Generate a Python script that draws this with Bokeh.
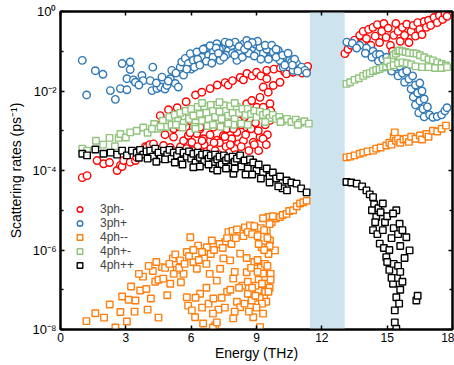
from bokeh.plotting import figure
from bokeh.models import (BoxAnnotation, FixedTicker, LinearAxis, LogAxis,
                          CustomJSTickFormatter, Legend, LegendItem)
from bokeh.embed import file_html
from bokeh.resources import INLINE

# ---------------- data (energy in THz, log10 of scattering rate in ps^-1) ----------------
e_3ph_minus = [1.0, 1.22, 1.68, 1.98, 2.25, 2.6, 2.75, 2.83, 2.9, 3.2, 3.44, 3.5, 3.66, 3.9, 3.97, 4.1, 4.27, 4.5,
               4.73, 5.04, 5.19, 5.5, 5.65, 5.87, 6.03, 6.26, 6.41, 6.56, 6.72, 6.87, 7.02, 7.18, 7.33, 7.48, 7.63,
               7.86, 7.94, 8.1, 8.17,
               4.58, 4.96, 5.36, 5.77, 5.2, 5.96, 6.2, 6.41, 6.49, 6.72, 6.87, 7.18, 7.2, 7.48, 7.56, 7.7, 7.9, 7.94,
               8.25, 8.25, 8.4, 8.55, 8.56, 8.78, 8.8, 9.01, 9.0, 9.16, 9.2, 9.31, 9.47, 9.47, 9.54, 9.62, 9.7, 9.77,
               9.8, 10.08, 10.1, 10.3, 10.38, 10.5, 10.68, 10.9, 11.0, 11.1, 11.3, 11.35,
               9.16, 8.85, 9.62, 9.31, 8.55, 8.4, 8.7, 9.08, 9.4, 9.5, 9.25, 8.95, 9.65,
               6.6, 6.9, 7.3, 7.6, 7.75, 8.0, 7.1, 6.3, 5.8, 6.9, 7.4, 8.0, 7.7, 6.2, 5.6,
               5.3, 5.7, 6.05, 6.45, 6.75, 7.05, 7.25, 7.55, 7.8, 8.05, 8.3, 8.5, 8.65, 8.9, 9.1, 9.3, 9.45,
               6.1, 6.5, 5.95, 7.9, 8.3, 8.45, 8.75, 4.8, 4.6, 5.45,
               13.06, 13.2, 13.35, 13.5, 13.6, 13.74, 13.85, 13.9, 14.05, 14.15, 14.25, 14.35, 14.45, 14.55, 14.65,
               14.75, 14.85, 14.95, 15.05, 15.15, 15.25, 15.3, 15.4, 15.5, 15.6, 15.7, 15.8, 15.9, 16.0, 16.1, 16.2,
               16.3, 16.4, 16.5, 16.6, 16.7, 16.8, 16.9, 17.0, 17.15, 17.3, 17.4, 17.55, 17.65, 17.75]
lg_3ph_minus = [-4.18, -4.13, -3.75, -3.83, -3.8, -4.0, -3.87, -3.9, -3.75, -3.79, -3.75, -3.67, -3.5, -3.4, -3.41,
                -3.35, -3.33, -3.47, -3.37, -3.42, -3.16, -3.41, -3.25, -3.12, -3.29, -3.07, -2.95, -3.2, -2.87,
                -3.1, -2.91, -3.24, -2.82, -3.12, -2.95, -3.2, -2.87, -3.04, -3.33,
                -2.62, -2.47, -2.42, -2.27, -2.95, -2.75, -2.1, -2.91, -2.03, -2.66, -1.94, -2.82, -1.85, -2.66,
                -1.79, -1.85, -1.74, -2.95, -2.57, -1.66, -1.72, -2.32, -1.56, -2.24, -1.62, -2.41, -1.53, -2.16,
                -1.62, -1.9, -1.69, -1.48, -2.03, -2.32, -2.62, -1.86, -1.45, -1.78, -1.42, -1.52, -1.57, -1.4,
                -1.53, -1.45, -1.48, -1.55, -1.44, -1.38,
                -3.16, -3.29, -2.74, -2.41, -2.91, -3.25, -2.7, -3.0, -2.85, -3.1, -2.6, -2.8, -2.5,
                -3.35, -3.45, -3.3, -3.4, -3.55, -3.45, -3.5, -3.4, -3.45, -2.6, -2.45, -2.35, -2.75, -2.55, -2.65,
                -3.55, -3.6, -3.5, -3.55, -3.65, -3.3, -3.6, -3.15, -3.35, -3.6, -3.4, -3.1, -3.5, -3.35, -3.5,
                -3.2, -3.35,
                -2.9, -3.25, -3.05, -2.75, -2.85, -2.65, -2.95, -3.1, -2.85, -2.9,
                -1.06, -0.95, -0.85, -0.72, -0.9, -0.6, -0.8, -0.5, -0.68, -0.45, -0.85, -0.4, -0.62, -0.33, -0.78,
                -0.5, -0.3, -0.65, -0.42, -0.85, -1.0, -0.6, -0.3, -0.5, -0.75, -0.4, -0.6, -0.32, -0.78, -0.5,
                -0.35, -0.62, -0.28, -0.45, -0.58, -0.25, -0.4, -0.22, -0.35, -0.15, -0.28, -0.1, -0.2, -0.05, -0.12]

e_3ph_plus = [1.0, 1.2, 1.6, 1.95, 2.29, 2.52, 2.75, 2.83, 3.05, 3.05, 3.2, 3.2, 3.35, 3.44, 3.74, 3.8, 4.12, 4.2,
              4.24, 4.43, 4.6, 4.66, 4.8, 4.89, 5.04, 5.11, 5.27, 5.41, 5.5, 5.57, 5.65, 5.73, 5.87, 5.96, 6.1, 6.26,
              6.33, 6.49, 6.64, 6.8, 6.87, 7.02, 7.18, 7.33, 7.4, 7.56, 7.71, 7.86, 8.02, 8.1, 8.25, 8.4, 8.55, 8.78,
              8.93, 9.16, 9.31, 9.47, 9.62, 9.77, 10.0, 10.08, 10.23, 10.38, 10.53, 10.61, 10.68, 10.84, 11.0, 11.07,
              11.22, 11.3,
              6.0, 6.3, 6.7, 7.0, 7.3, 7.6, 7.9, 8.2, 8.35, 8.65, 8.9, 9.05, 9.4, 9.55, 9.9, 10.2, 10.45, 10.75,
              6.55, 7.15, 7.75, 8.8, 5.3, 4.95, 4.4, 3.6,
              5.8, 6.15, 6.4, 6.95, 7.5, 8.0, 8.45, 9.2, 9.7, 10.3, 8.6, 7.25, 9.9, 10.9, 10.65,
              13.15, 13.4, 13.74, 13.6, 14.05, 14.0, 14.35, 14.3, 14.5, 14.66, 14.6, 14.8, 14.98, 14.9, 15.1, 15.25,
              15.2, 15.4, 15.57, 15.5, 15.7, 15.9, 15.8, 16.0, 16.17, 16.1, 16.3, 16.5, 16.2, 16.4, 16.6, 16.3,
              16.5, 16.7, 16.45, 16.65, 16.85, 16.7, 16.95, 17.1, 17.3, 17.5, 17.65, 17.75]
lg_3ph_plus = [-1.23, -2.1, -1.49, -1.58, -1.99, -2.21, -1.94, -1.31, -1.69, -1.97, -1.27, -1.46, -1.72, -1.78,
               -1.61, -1.74, -1.74, -1.99, -1.4, -1.94, -1.9, -1.65, -1.95, -1.86, -1.69, -1.48, -1.81, -1.9, -1.4,
               -1.27, -1.6, -1.18, -1.31, -1.06, -1.23, -1.02, -1.31, -1.15, -0.93, -1.1, -0.86, -1.02, -0.81,
               -1.23, -0.93, -0.77, -0.98, -0.86, -0.77, -1.23, -1.02, -0.82, -0.73, -0.93, -0.82, -0.9, -1.06,
               -0.95, -1.15, -1.02, -0.98, -1.23, -1.4, -1.31, -1.23, -1.27, -1.48, -1.31, -1.43, -1.4, -1.48, -1.55,
               -1.45, -1.2, -1.25, -1.15, -0.95, -1.1, -1.05, -0.88, -1.15, -1.05, -1.12, -0.75, -0.85, -1.2, -1.15,
               -1.1, -1.05, -1.2,
               -0.95, -0.92, -0.8, -0.78, -1.55, -1.75, -1.8, -1.85,
               -1.45, -1.4, -1.35, -1.3, -1.15, -1.1, -0.95, -1.2, -0.85, -1.35, -0.85, -1.05, -0.95, -1.5, -1.35,
               -0.77, -0.8, -0.85, -0.92, -0.92, -1.05, -1.0, -1.15, -1.08, -1.08, -1.25, -1.2, -1.15, -1.38, -1.3,
               -1.25, -1.5, -1.4, -1.38, -1.62, -1.55, -1.5, -1.78, -1.7, -1.62, -1.95, -1.85, -1.8, -2.15, -2.05,
               -2.0, -2.35, -2.25, -2.2, -2.55, -2.45, -2.4, -2.65, -2.6, -2.66, -2.64, -2.6, -2.5, -2.42]

e_4ph_mm = [1.19, 1.6, 2.26, 2.52, 2.75, 2.83, 3.05, 3.13, 3.24, 3.44, 3.66, 3.79, 3.94, 4.15, 4.24, 4.35, 4.5, 4.66,
            4.72, 4.9, 5.04, 5.16, 5.27, 5.34, 5.5, 5.53, 5.65, 5.8, 5.8, 5.86, 5.96, 6.03, 6.1, 6.18, 6.26, 6.32,
            6.41, 6.55, 6.6, 6.72, 6.8, 6.85, 6.95, 7.02, 7.1, 7.18, 7.25, 7.33, 7.48, 7.56, 7.65, 7.71, 7.79, 7.93,
            8.0, 8.1, 8.25, 8.25, 8.35, 8.47, 8.55, 8.6, 8.7, 8.78, 8.85, 8.9, 9.0, 9.08, 9.1, 9.16, 9.2, 9.24, 9.3,
            9.35, 9.39, 9.45, 9.47, 9.54, 9.55, 9.62, 9.65, 9.7, 9.85, 9.9, 10.08, 10.2, 10.38, 10.5, 10.68, 10.85,
            11.0, 11.15, 11.3,
            7.9, 8.1, 8.9, 9.2, 9.3, 8.6, 8.75, 8.95, 9.05, 9.15, 9.25, 9.4, 9.5, 9.6, 9.45, 9.25, 8.95, 9.6, 9.5,
            7.0, 7.18, 7.93, 8.25,
            4.4, 4.8, 5.0, 5.2, 5.45, 5.7, 5.9, 6.1, 6.35, 6.5, 6.7, 6.9, 7.05, 7.3, 7.45, 7.65, 7.85, 8.05, 8.4,
            8.6, 8.8, 9.05, 9.35, 9.6, 9.75,
            6.2, 6.5, 6.7, 7.0, 7.4, 7.55, 7.8, 8.0, 8.2, 8.45, 8.65, 8.8, 9.0, 9.3, 9.55, 9.65, 9.05, 9.35, 9.1,
            8.55, 2.0, 3.4, 4.0, 4.5, 3.6, 4.05,
            13.13, 13.3, 13.5, 13.74, 13.9, 14.1, 14.35, 14.5, 14.7, 14.96, 15.1, 15.2, 15.3, 15.35, 15.4, 15.5,
            15.6, 15.75, 15.88, 16.0, 16.1, 16.3, 16.5, 16.6, 16.8, 16.9, 17.1, 17.3, 17.5, 17.7]
lg_4ph_mm = [-7.79, -7.59, -7.37, -7.95, -7.56, -7.17, -7.8, -7.25, -6.92, -7.27, -7.02, -6.67, -6.98, -7.22, -6.53,
             -6.8, -6.75, -6.43, -6.72, -7.14, -6.85, -6.21, -6.11, -6.5, -6.26, -6.81, -6.6, -6.05, -7.19, -7.4,
             -5.68, -7.52, -6.3, -7.69, -6.47, -5.89, -7.1, -7.85, -6.2, -5.93, -7.35, -6.6, -5.76, -7.22, -7.9,
             -6.77, -7.5, -6.47, -6.21, -5.8, -7.05, -5.55, -6.26, -6.72, -6.55, -7.3, -6.09, -5.55, -6.9, -5.43,
             -6.56, -7.1, -5.38, -7.27, -7.69, -6.3, -5.45, -7.02, -6.75, -7.94, -6.45, -5.93, -6.59, -7.15, -6.35,
             -6.85, -5.51, -5.17, -6.1, -5.76, -6.6, -5.3, -6.01, -5.2, -5.17, -5.12, -5.09, -5.02, -5.0, -4.9,
             -4.83, -4.8, -4.76,
             -5.52, -5.48, -5.4, -5.45, -5.2, -6.8, -6.45, -6.9, -6.55, -7.2, -6.85, -7.05, -6.4, -6.95, -7.3, -7.35,
             -7.15, -5.9, -5.7,
             -7.95, -7.82, -7.72, -7.44,
             -6.3, -6.45, -6.35, -6.6, -6.45, -6.35, -6.15, -6.0, -6.25, -6.05, -6.35, -6.1, -6.0, -5.85, -5.95,
             -5.7, -5.85, -5.7, -5.65, -5.55, -5.6, -5.65, -5.5, -5.35, -5.15,
             -7.2, -7.45, -6.95, -7.6, -7.2, -7.45, -7.0, -7.55, -6.95, -7.35, -7.55, -6.95, -7.45, -7.6, -7.05,
             -6.75, -6.25, -6.0, -5.85, -6.2, -7.7, -7.55, -7.5, -7.7, -6.6, -6.4,
             -3.67, -3.65, -3.62, -3.58, -3.55, -3.52, -3.5, -3.45, -3.42, -3.37, -3.3, -3.35, -3.15, -3.04, -3.25,
             -3.2, -3.3, -3.22, -3.2, -3.28, -3.15, -3.2, -3.12, -3.22, -3.08, -3.15, -3.0, -3.02, -2.95, -2.87]

e_4ph_pm = [1.0, 1.22, 1.63, 1.96, 2.25, 2.5, 2.67, 2.75, 3.0, 3.2, 3.5, 3.8, 4.0, 4.3, 4.5, 4.7, 4.85, 5.0, 5.1,
            5.25, 5.4, 5.5, 5.65, 5.75, 5.9, 6.0, 6.1, 6.2, 6.3, 6.4, 6.5, 6.6, 6.7, 6.8, 6.9, 7.0, 7.1, 7.2, 7.3,
            7.4, 7.5, 7.6, 7.7, 7.8, 7.9, 8.0, 8.1, 8.2, 8.35, 8.5, 8.6, 8.75, 8.9, 9.0, 9.15, 9.3, 9.45, 9.6,
            9.75, 9.9, 10.05, 10.2, 10.4, 10.6, 10.8, 11.0, 11.2, 11.4,
            5.6, 6.15, 6.75, 7.35, 7.95, 8.3,
            4.2, 4.6, 5.3, 6.2, 7.0, 7.7, 8.6, 9.4, 10.1, 10.9, 6.5, 7.3, 8.0,
            13.13, 13.3, 13.5, 13.7, 13.9, 14.05, 14.2, 14.35, 14.5, 14.65, 14.8, 14.95, 15.1, 15.2, 15.3, 15.4,
            15.5, 15.57, 15.7, 15.85, 16.0, 16.2, 16.35, 16.5, 16.7, 16.9, 17.1, 17.3, 17.5, 17.7,
            15.0, 15.15, 15.3, 15.5, 15.7, 15.9, 16.1, 16.3, 16.6, 16.9, 17.2, 17.5, 17.75]
lg_4ph_pm = [-3.45, -3.5, -3.25, -3.35, -3.18, -3.39, -3.18, -3.08, -3.17, -3.04, -3.0, -2.92, -3.05, -2.83, -2.95,
             -2.75, -2.9, -2.65, -2.85, -2.6, -2.75, -2.55, -2.8, -2.5, -2.7, -2.45, -2.62, -2.8, -2.4, -2.58,
             -2.75, -2.38, -2.55, -2.7, -2.35, -2.5, -2.65, -2.35, -2.52, -2.7, -2.36, -2.5, -2.62, -2.38, -2.55,
             -2.7, -2.4, -2.55, -2.45, -2.6, -2.45, -2.58, -2.5, -2.65, -2.52, -2.6, -2.55, -2.68, -2.6, -2.7,
             -2.65, -2.75, -2.7, -2.78, -2.72, -2.8, -2.76, -2.82,
             -2.92, -2.9, -2.88, -2.9, -2.85, -2.82,
             -2.95, -2.9, -2.85, -2.95, -2.85, -2.82, -2.85, -2.78, -2.78, -2.85, -2.3, -2.28, -2.3,
             -1.82, -1.78, -1.72, -1.68, -1.62, -1.57, -1.55, -1.5, -1.47, -1.45, -1.41, -1.38, -1.3, -1.2, -1.1,
             -1.06, -1.0, -0.98, -1.0, -1.02, -1.04, -1.05, -1.06, -1.1, -1.15, -1.2, -1.23, -1.28, -1.32, -1.36,
             -1.25, -1.38, -1.35, -1.3, -1.28, -1.3, -1.33, -1.38, -1.4, -1.4, -1.42, -1.42, -1.4]

e_4ph_pp = [1.0, 1.22, 1.6, 1.97, 2.3, 2.6, 2.83, 3.05, 3.28, 3.5, 3.65, 3.8, 3.95, 4.12, 4.25, 4.35, 4.5, 4.6,
            4.75, 4.9, 5.0, 5.1, 5.2, 5.35, 5.45, 5.55, 5.65, 5.8, 5.9, 6.0, 6.1, 6.2, 6.3, 6.4, 6.5, 6.6, 6.7,
            6.8, 6.9, 7.0, 7.1, 7.2, 7.3, 7.4, 7.5, 7.6, 7.7, 7.8, 7.9, 8.0, 8.1, 8.25, 8.3, 8.45, 8.6, 8.7, 8.85,
            9.0, 9.1, 9.3, 9.47, 9.6, 9.75, 9.9, 10.08, 10.2, 10.38, 10.6, 10.84, 11.05, 11.3,
            5.25, 6.1, 7.0, 7.94, 8.5,
            3.6, 4.0, 4.4, 4.8, 5.6, 6.4, 6.8, 7.2, 7.6, 8.0, 8.8, 9.2, 9.6, 10.0, 10.4,
            13.13, 13.35, 13.6, 13.85, 14.05, 14.2, 14.35, 14.4, 14.3, 14.5, 14.6, 14.7, 14.35, 14.45, 14.66,
            14.55, 14.8, 14.9, 15.0, 14.96, 14.85, 15.1, 15.2, 15.3, 15.42, 15.57, 15.5, 15.6, 15.7, 15.88, 16.03,
            15.8, 15.1, 15.3, 15.5, 15.27, 15.45, 15.6, 15.42, 15.6, 15.35, 15.55, 15.35, 15.42, 16.34, 16.4,
            15.7, 15.2, 15.0, 14.8, 15.27]
lg_4ph_pp = [-3.58, -3.62, -3.47, -3.58, -3.55, -3.6, -3.5, -3.62, -3.5, -3.55, -3.48, -3.6, -3.52, -3.5, -3.65,
             -3.45, -3.55, -3.7, -3.5, -3.6, -3.48, -3.7, -3.55, -3.62, -3.5, -3.75, -3.55, -3.65, -3.52, -3.7,
             -3.58, -3.8, -3.55, -3.68, -3.6, -3.78, -3.58, -3.7, -3.62, -3.82, -3.6, -3.72, -3.65, -3.85, -3.62,
             -3.75, -3.68, -3.9, -3.65, -3.78, -3.7, -3.62, -3.9, -3.75, -3.95, -3.72, -3.8, -4.0, -3.85, -4.05,
             -3.95, -4.15, -4.05, -4.2, -4.15, -4.45, -4.25, -4.3, -4.33, -4.45, -4.55,
             -3.8, -3.92, -3.95, -4.08, -4.1,
             -3.68, -3.7, -3.78, -3.72, -3.85, -3.9, -3.85, -4.0, -3.95, -3.95, -4.1, -4.2, -4.3, -4.4, -4.5,
             -4.29, -4.3, -4.33, -4.4, -4.5, -4.6, -4.67, -4.85, -5.0, -5.17, -4.95, -5.05, -5.5, -5.3, -5.84,
             -5.6, -5.5, -5.3, -5.15, -6.18, -5.95, -6.0, -5.7, -5.45, -5.0, -5.34, -5.6, -5.9, -5.5, -5.68, -6.01,
             -6.2, -6.5, -6.35, -6.4, -6.85, -6.7, -6.55, -7.19, -7.0, -7.52, -7.35, -7.82, -7.98, -7.27, -7.15,
             -6.8, -6.7, -6.3, -4.83, -5.08]

series_labels = ["3ph-", "3ph+", "4ph--", "4ph+-", "4ph++"]
x_ticks = [0, 3, 6, 9, 12, 15, 18]
y_major_ticks = [1e-8, 1e-6, 1e-4, 1e-2, 1]
y_minor_ticks = [1e-7, 1e-5, 1e-3, 1e-1]
gap_band = (11.45, 13.05)


def to_rate(logs):
    return [10 ** v for v in logs]


FONT = "Liberation Sans"

p = figure(width=454, height=365, x_range=(0, 18), y_range=(1e-8, 1),
           y_axis_type="log", output_backend="svg", toolbar_location=None,
           min_border_left=60, min_border_right=2, min_border_top=11, min_border_bottom=36,
           background_fill_color="white", border_fill_color="white")
p.xgrid.visible = False
p.ygrid.visible = False
p.outline_line_color = "black"
p.outline_line_width = 2

sup_formatter = CustomJSTickFormatter(code=r"""
const sup = {"-": "\u207b", "0": "\u2070", "1": "\u00b9", "2": "\u00b2", "3": "\u00b3",
             "4": "\u2074", "5": "\u2075", "6": "\u2076", "7": "\u2077", "8": "\u2078", "9": "\u2079"};
const e = Math.round(Math.log10(tick));
return "10" + String(e).split("").map(c => sup[c]).join("");
""")
blank = CustomJSTickFormatter(code="return '';")

xax = p.xaxis[0]
yax = p.yaxis[0]
xax.ticker = FixedTicker(ticks=x_ticks, minor_ticks=[])
yax.ticker = FixedTicker(ticks=y_major_ticks, minor_ticks=y_minor_ticks)
yax.formatter = sup_formatter
xax.axis_label = "Energy (THz)"
yax.axis_label = "Scattering rates (ps\u207b\u00b9)"

top = LinearAxis(ticker=FixedTicker(ticks=x_ticks, minor_ticks=[]), formatter=blank)
right = LogAxis(ticker=FixedTicker(ticks=y_major_ticks, minor_ticks=y_minor_ticks), formatter=blank)
p.add_layout(top, "above")
p.add_layout(right, "right")

for ax in (xax, yax, top, right):
    ax.axis_line_width = 2
    ax.axis_line_color = "black"
    ax.major_tick_in = 4
    ax.major_tick_out = 0
    ax.minor_tick_in = 3
    ax.minor_tick_out = 0
    ax.major_tick_line_width = 1.5
    ax.minor_tick_line_width = 1.5
    ax.major_label_text_font = FONT
    ax.axis_label_text_font = FONT
    ax.axis_label_text_font_style = "normal"
    ax.axis_label_text_font_size = "14px"
    ax.axis_label_text_color = "black"
    ax.major_label_text_color = "black"

for ax in (top, right):
    ax.major_label_text_font_size = "0px"
    ax.major_label_standoff = 0

xax.major_label_text_font_size = "12px"
xax.major_label_standoff = 3
xax.axis_label_standoff = 0
yax.major_label_text_font_size = "13px"
yax.major_label_standoff = 4
yax.axis_label_standoff = 5

p.add_layout(BoxAnnotation(left=gap_band[0], right=gap_band[1], fill_color="#cde4ef", fill_alpha=1.0,
                           line_color=None, level="underlay"))

r_3m = p.scatter(e_3ph_minus, to_rate(lg_3ph_minus), marker="circle", size=7.5, line_color="#ff0000",
                 fill_color="white", line_width=1.4)
r_3p = p.scatter(e_3ph_plus, to_rate(lg_3ph_plus), marker="circle", size=7.5, line_color="#2f78b5",
                 fill_color="white", line_width=1.4)
r_mm = p.scatter(e_4ph_mm, to_rate(lg_4ph_mm), marker="square", size=6.5, line_color="#ff7f0e",
                 fill_color="white", line_width=1.4)
r_pm = p.scatter(e_4ph_pm, to_rate(lg_4ph_pm), marker="square", size=6.5, line_color="#90c47c",
                 fill_color="white", line_width=1.4)
r_pp = p.scatter(e_4ph_pp, to_rate(lg_4ph_pp), marker="square", size=6.5, line_color="black",
                 fill_color="white", line_width=1.4)

legend = Legend(items=[LegendItem(label=lab, renderers=[r]) for lab, r in
                       zip(series_labels, [r_3m, r_3p, r_mm, r_pm, r_pp])],
                location=(12, 57), glyph_width=15, glyph_height=14, label_height=14, spacing=0,
                padding=0, margin=0, label_standoff=13, border_line_color=None,
                background_fill_alpha=0, label_text_font=FONT, label_text_font_size="12px")
p.add_layout(legend)

with open("out.html", "w", encoding="utf-8") as f:
    f.write(file_html(p, INLINE))
